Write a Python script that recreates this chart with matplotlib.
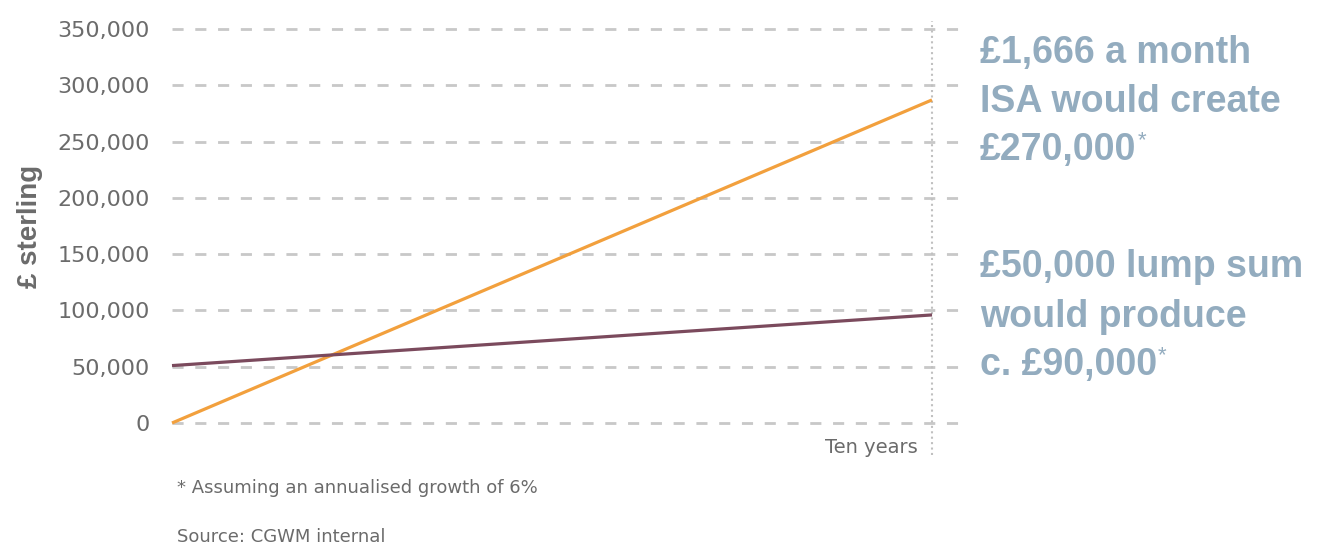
import matplotlib

matplotlib.use("Agg")
import matplotlib.pyplot as plt

# ten-year projection, £
years = [0, 10]
isa_monthly = [0, 287000]
lump_sum = [51000, 96000]

y_ticks = [0, 50000, 100000, 150000, 200000, 250000, 300000, 350000]
y_ticklabels = [f"{v:,}" for v in y_ticks]

isa_lines = ["£1,666 a month", "ISA would create", "£270,000"]
lump_lines = ["£50,000 lump sum", "would produce", "c. £90,000"]

GREY = "#6b6b6b"
GRID = "#c8c8c8"
NOTE = "#93acbf"
ORANGE = "#f2a03d"
PLUM = "#7b4a5d"

fig = plt.figure(figsize=(13.22, 5.44), dpi=100)
ax = fig.add_axes([172 / 1322, 1 - 423 / 544, 788 / 1322, 394 / 544])

ax.set_xlim(0, 10 * 788 / 760)
ax.set_ylim(0, 350000)
ax.set_yticks(y_ticks)
ax.set_yticklabels(y_ticklabels)
ax.set_xticks([])
ax.tick_params(axis="y", length=0, pad=16, labelsize=16, labelcolor=GREY)
for s in ax.spines.values():
    s.set_visible(False)

for v in y_ticks:
    ax.axhline(v, color=GRID, lw=2, dashes=(4, 4.2), zorder=1, clip_on=False)

# dotted marker at the ten-year point, runs a bit past the plot box
ax.plot([10, 10], [-0.08, 1.02], transform=ax.get_xaxis_transform(), color="#c0c0c0",
        lw=1.5, ls=(0, (1, 1.6)), clip_on=False, zorder=2)

ax.plot(years, isa_monthly, color=ORANGE, lw=2.3, solid_capstyle="butt", clip_on=False, zorder=3)
ax.plot(years, lump_sum, color=PLUM, lw=2.3, solid_capstyle="butt", clip_on=False, zorder=3)

fig.text(918 / 1322, 1 - 453 / 544, "Ten years", ha="right", va="baseline", fontsize=14, color=GREY)

fig.text(30 / 1322, 1 - 226 / 544, "£ sterling", rotation=90, ha="center", va="center",
         fontsize=20, fontweight="bold", color=GREY, family="Liberation Sans")

fig.text(177 / 1322, 1 - 493 / 544, "* Assuming an annualised growth of 6%", fontsize=13,
         color=GREY, va="baseline")
fig.text(177 / 1322, 1 - 542 / 544, "Source: CGWM internal", fontsize=13, color=GREY,
         va="baseline")

renderer = fig.canvas.get_renderer()


def note_block(lines, baselines):
    last = None
    for txt, yb in zip(lines, baselines):
        last = fig.text(980 / 1322, 1 - yb / 544, txt, fontsize=27, fontweight="bold",
                        color=NOTE, family="Liberation Sans", va="baseline")
    bb = last.get_window_extent(renderer)
    fig.text((bb.x1 + 1) / 1322, 1 - (baselines[-1] - 14) / 544, "*", fontsize=16,
             color=NOTE, family="Liberation Sans", va="baseline")


note_block(isa_lines, [63, 112, 160])
note_block(lump_lines, [277, 327, 375])

fig.savefig("out.png", dpi=100)
